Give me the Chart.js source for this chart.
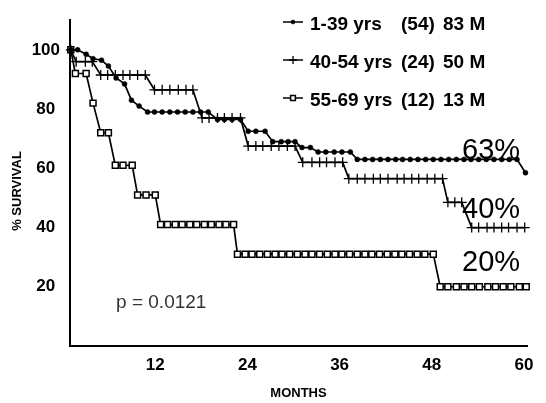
<!DOCTYPE html>
<html>
<head>
<meta charset="utf-8">
<script src="https://cdn.jsdelivr.net/npm/chart.js@4.4.1/dist/chart.umd.min.js"></script>
<style>
  html, body { margin: 0; padding: 0; background: #fff; }
  canvas { display: block; }
</style>
</head>
<body>
<canvas id="survivalChart" width="546" height="403"></canvas>
<script>
// Kaplan-Meier survival by age group
const ageGroups = ["1-39 yrs", "40-54 yrs", "55-69 yrs"];
const patientCounts = ["(54)", "(24)", "(12)"];
const medianSurvival = ["83 M", "50 M", "13 M"];
const fiveYearSurvival = [63, 40, 20];
const pValueText = "p = 0.0121";

const xTicks = [12, 24, 36, 48, 60];
const yTicks = [20, 40, 60, 80, 100];

// 1-39 yrs
const months1 = [1, 1.9, 3.0, 3.9, 5.0, 5.9, 6.9, 8.0, 8.9, 9.9,
  11.0, 11.9, 12.9, 13.9, 14.9, 15.9, 16.9, 17.9, 18.9,
  20.1, 21.0, 22.0, 23.1,
  24.1, 25.1, 26.3,
  27.3, 28.4, 29.3, 30.2,
  31.1, 32.2,
  33.2, 34.2, 35.3, 36.3, 37.4,
  38.3, 39.3, 40.3, 41.3, 42.3, 43.3, 44.2, 45.2, 46.2, 47.2, 48.2,
  49.2, 50.2, 51.2, 52.2, 53.1, 54.1, 55.1, 56.1, 57.1, 58.1, 59.1,
  60.2];
const survival1 = [100, 100, 98.5, 97, 96.5, 94.5, 90.5, 88.5, 83, 81,
  79, 79, 79, 79, 79, 79, 79, 79, 79,
  76.5, 76.5, 76.5, 76.5,
  72.5, 72.5, 72.5,
  69, 69, 69, 69,
  67, 67,
  65.5, 65.5, 65.5, 65.5, 65.5,
  63, 63, 63, 63, 63, 63, 63, 63, 63, 63, 63,
  63, 63, 63, 63, 63, 63, 63, 63, 63, 63, 63,
  58.5];

// 40-54 yrs
const months2 = [1, 1.7, 2.9, 3.8,
  4.9, 5.8, 6.8, 7.8, 8.7, 9.7, 10.7,
  11.9, 12.9, 13.9, 15.0, 16.0, 16.9,
  18.1, 19.0, 20.1, 21.0, 22.0, 23.1,
  24.1, 25.1, 26.0, 27.1, 28.1, 29.2, 30.2,
  31.2, 32.4, 33.4, 34.3, 35.4, 36.4,
  37.2, 38.3, 39.3, 40.4, 41.3, 42.3, 43.5, 44.4, 45.4, 46.3, 47.4, 48.4, 49.4,
  50.1, 51.0, 51.9,
  53.2, 54.1, 55.2, 56.1, 57.1, 58.0, 59.1, 60.1];
const survival2 = [100, 96, 96, 96,
  91.5, 91.5, 91.5, 91.5, 91.5, 91.5, 91.5,
  86.5, 86.5, 86.5, 86.5, 86.5, 86.5,
  77, 77, 77, 77, 77, 77,
  67.5, 67.5, 67.5, 67.5, 67.5, 67.5, 67.5,
  62, 62, 62, 62, 62, 62,
  56.5, 56.5, 56.5, 56.5, 56.5, 56.5, 56.5, 56.5, 56.5, 56.5, 56.5, 56.5, 56.5,
  48.5, 48.5, 48.5,
  40, 40, 40, 40, 40, 40, 40, 40];

// 55-69 yrs
const months3 = [1, 1.6, 3.0, 3.9, 4.9, 5.9, 6.8, 7.8, 9.0, 9.7, 10.8, 12.0,
  12.7, 13.6, 14.6, 15.5, 16.5, 17.4, 18.4, 19.3, 20.3, 21.2, 22.2,
  22.7, 23.7, 24.6, 25.6, 26.6, 27.6, 28.5, 29.5, 30.5, 31.5, 32.4, 33.4, 34.4,
  35.4, 36.3, 37.3, 38.3, 39.3, 40.2, 41.2, 42.2, 43.2, 44.1, 45.1, 46.1, 47.1, 48.2,
  49.1, 50.1, 51.2, 52.2, 53.2, 54.2, 55.3, 56.3, 57.3, 58.3, 59.4, 60.3];
const survival3 = [100, 92, 92, 82, 72, 72, 61, 61, 61, 51, 51, 51,
  41, 41, 41, 41, 41, 41, 41, 41, 41, 41, 41,
  31, 31, 31, 31, 31, 31, 31, 31, 31, 31, 31, 31, 31,
  31, 31, 31, 31, 31, 31, 31, 31, 31, 31, 31, 31, 31, 31,
  20, 20, 20, 20, 20, 20, 20, 20, 20, 20, 20, 20];

const FONT = '"Liberation Sans", Arial, Helvetica, sans-serif';

function toPoints(months, values) {
  return months.map((m, i) => ({ x: m, y: values[i] }));
}

// how far each 5-year label sits above its plateau
const labelLift = [0, 10, 16];

const annotations = {
  id: "annotations",
  afterDatasetsDraw(chart) {
    const ctx = chart.ctx;
    const xs = chart.scales.x;
    const ys = chart.scales.y;
    ctx.save();
    ctx.fillStyle = "#000";

    // percentages at 5 years
    ctx.font = "29px " + FONT;
    ctx.textAlign = "right";
    ctx.textBaseline = "alphabetic";
    fiveYearSurvival.forEach((v, i) => {
      ctx.fillText(v + "%", xs.getPixelForValue(59.5), ys.getPixelForValue(v) - labelLift[i]);
    });

    // log-rank p value
    ctx.font = "19px " + FONT;
    ctx.fillStyle = "#333";
    ctx.textAlign = "left";
    ctx.fillText(pValueText, xs.getPixelForValue(6.9), ys.getPixelForValue(12.7));

    // y axis title
    ctx.fillStyle = "#000";
    ctx.font = "bold 13px " + FONT;
    ctx.translate(17, 191);
    ctx.rotate(-Math.PI / 2);
    ctx.textAlign = "center";
    ctx.textBaseline = "middle";
    ctx.fillText("% SURVIVAL", 0, 0);
    ctx.restore();

    // key, top right
    ctx.save();
    chart.data.datasets.forEach((ds, i) => {
      const base = 30 + i * 38;
      const ly = base - 8;
      ctx.strokeStyle = "#000";
      ctx.lineWidth = 1.5;
      ctx.beginPath();
      ctx.moveTo(283, ly);
      ctx.lineTo(303, ly);
      ctx.stroke();
      ctx.fillStyle = ds.pointBackgroundColor;
      ctx.lineWidth = ds.pointBorderWidth;
      Chart.helpers.drawPoint(ctx, {
        pointStyle: ds.pointStyle,
        radius: ds.pointRadius * 0.8,
        borderWidth: ds.pointBorderWidth,
        rotation: 0
      }, 293, ly);

      ctx.fillStyle = "#000";
      ctx.font = "bold 19px " + FONT;
      ctx.textAlign = "left";
      ctx.textBaseline = "alphabetic";
      ctx.fillText(ageGroups[i], 310, base);
      ctx.fillText(patientCounts[i], 401, base);
      ctx.fillText(medianSurvival[i], 443, base);
    });
    ctx.restore();
  }
};

const ctx = document.getElementById("survivalChart").getContext("2d");
const survivalChart = new Chart(ctx, {
  type: "line",
  data: {
    datasets: [
      {
        label: ageGroups[0],
        data: toPoints(months1, survival1),
        borderColor: "#000",
        borderWidth: 1.7,
        pointStyle: "circle",
        pointRadius: 2.5,
        pointBackgroundColor: "#000",
        pointBorderColor: "#000",
        pointBorderWidth: 0.5,
        tension: 0,
        clip: false
      },
      {
        label: ageGroups[1],
        data: toPoints(months2, survival2),
        borderColor: "#000",
        borderWidth: 1.7,
        pointStyle: "cross",
        pointRadius: 5,
        pointBackgroundColor: "#000",
        pointBorderColor: "#000",
        pointBorderWidth: 1.3,
        tension: 0,
        clip: false
      },
      {
        label: ageGroups[2],
        data: toPoints(months3, survival3),
        borderColor: "#000",
        borderWidth: 1.7,
        pointStyle: "rect",
        pointRadius: 4.2,
        pointBackgroundColor: "#fff",
        pointBorderColor: "#000",
        pointBorderWidth: 1.5,
        tension: 0,
        clip: false
      }
    ]
  },
  options: {
    responsive: false,
    animation: false,
    layout: { padding: { top: 8, right: 19, left: 0, bottom: 0 } },
    plugins: {
      legend: { display: false },
      tooltip: { enabled: false }
    },
    scales: {
      x: {
        type: "linear",
        min: 0.9,
        max: 60.4,
        afterBuildTicks: function (scale) {
          scale.ticks = xTicks.map(v => ({ value: v }));
        },
        afterFit: function (scale) {
          scale.height = 57;
        },
        grid: { display: false, drawTicks: false },
        border: { display: true, color: "#000", width: 2 },
        ticks: {
          color: "#000",
          padding: 9,
          maxRotation: 0,
          font: { family: FONT, size: 17, weight: "bold" }
        },
        title: {
          display: true,
          text: "MONTHS",
          color: "#000",
          font: { family: FONT, size: 13, weight: "bold" },
          padding: { top: 0, bottom: 2 }
        }
      },
      y: {
        min: 0,
        max: 110,
        afterBuildTicks: function (scale) {
          scale.ticks = yTicks.map(v => ({ value: v }));
        },
        afterFit: function (scale) {
          scale.width = 70;
        },
        grid: { display: false, drawTicks: false },
        border: { display: true, color: "#000", width: 2 },
        ticks: {
          color: "#000",
          padding: 10,
          crossAlign: "center",
          font: { family: FONT, size: 17, weight: "bold" }
        }
      }
    }
  },
  plugins: [annotations]
});
</script>
</body>
</html>
